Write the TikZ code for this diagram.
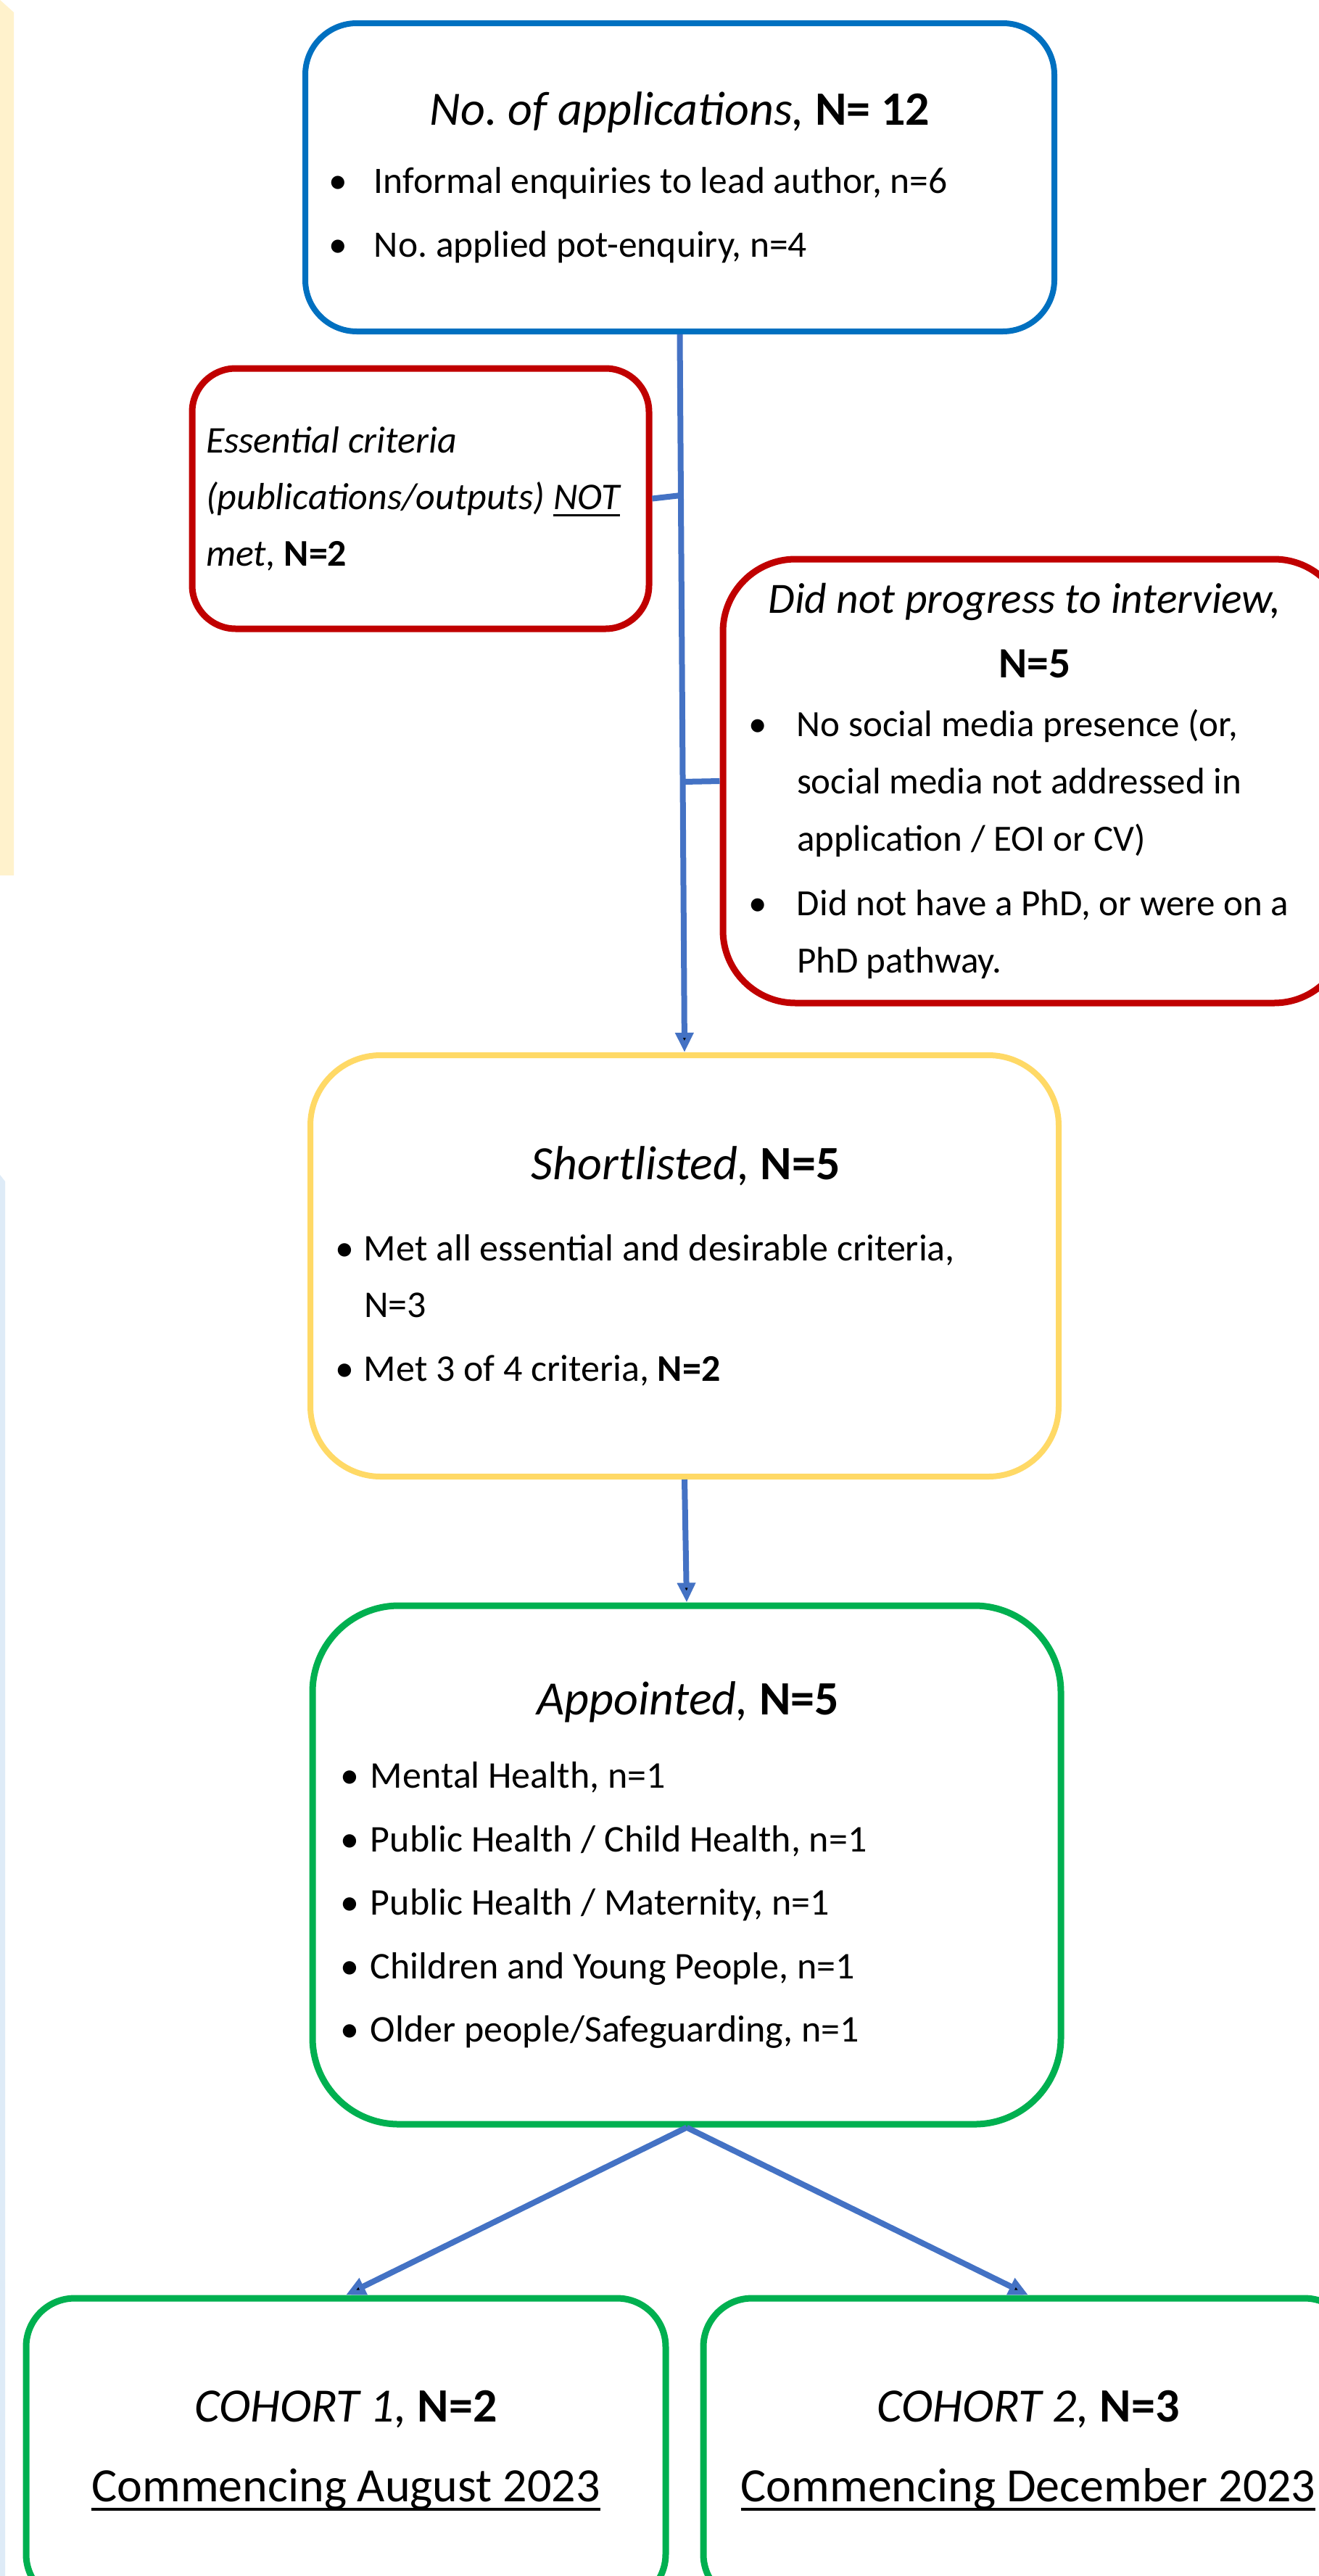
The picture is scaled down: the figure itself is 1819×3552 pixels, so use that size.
\documentclass[tikz,border=0pt]{standalone}
\usepackage{fontspec}
\setmainfont{Carlito}
\usetikzlibrary{arrows.meta}

\definecolor{appblue}{HTML}{0070C0}
\definecolor{rejred}{HTML}{C00000}
\definecolor{listyellow}{HTML}{FFD966}
\definecolor{apptgreen}{HTML}{00B050}
\definecolor{flowblue}{HTML}{4472C4}
\definecolor{bandyellow}{HTML}{FFF2CC}
\definecolor{bandblue}{HTML}{DEEBF7}

\newcommand{\fsz}[2]{\fontsize{#1}{#2}\selectfont\spaceskip=0.226em plus 0.08em minus 0.04em\xspaceskip=\spaceskip}
\newsavebox{\undlbox}
\newcommand{\undl}[1]{\leavevmode\sbox{\undlbox}{#1}\rlap{\rule[-0.19em]{\wd\undlbox}{0.055em}}\usebox{\undlbox}}
\newcommand{\bpoint}[2]{\par\hangindent=#1\hangafter=1\noindent\makebox[#1][l]{\textbullet}#2}

\begin{document}
\begin{tikzpicture}[x=1pt,y=-1pt,>={Triangle[length=27pt,width=24pt]},
  stage/.style={draw, rounded corners=#1, line width=8pt, fill=white, inner sep=0pt,
    execute at begin node={\parindent=0pt}},
  flow/.style={draw=flowblue, line width=8pt}]
  \useasboundingbox (0,0) rectangle (1819,3552);
  \fill[white] (0,0) rectangle (1819,3552);
  \clip (0,0) rectangle (1819,3552);
  \fill[bandyellow] (0,0) -- (19,17) -- (19,1207) -- (0,1207) -- cycle;
  \fill[bandblue] (0,1620) -- (7,1629) -- (7,3552) -- (0,3552) -- cycle;

  \node[stage=71pt, draw=appblue, minimum width=1033pt, minimum height=425pt, text width=969pt]
    (apps) at (937.5,244.5)
    {{\fsz{66}{80}\centering\textit{No. of applications,} \textbf{N= 12}\par}
     \vspace{6pt}
     {\fsz{51.5}{88}\raggedright
      \bpoint{63pt}{Informal enquiries to lead author, n=6}
      \bpoint{63pt}{No. applied pot-enquiry, n=4}\par}};
  \node[stage=60pt, draw=rejred, line width=9pt, minimum width=630pt, minimum height=359pt, text width=592pt]
    (ess) at (580,687.5)
    {\fsz{52}{78}\raggedright
     \textit{Essential criteria}\newline
     \textit{(publications/outputs) \undl{NOT}}\newline
     \textit{met,} \textbf{N=2}\par};
  \node[stage=100pt, draw=rejred, line width=9pt, minimum width=860pt, minimum height=612pt, text width=790pt]
    (dnp) at (1427,1077)
    {{\fsz{59.5}{89}\centering\textit{Did not progress to interview,}\newline\textbf{N=5}\par}
     \vspace{2pt}
     {\fsz{51}{79}\raggedright
      \bpoint{67pt}{No social media presence (or,\newline social media not addressed in\newline application / EOI or CV)}\par
      \vspace{10pt}
      \bpoint{67pt}{Did not have a PhD, or were on a\newline PhD pathway.}\par}};
  \node[stage=97pt, draw=listyellow, minimum width=1032pt, minimum height=581pt, text width=964pt]
    (short) at (944,1745.5)
    {\vspace*{18pt}
     {\fsz{66}{80}\centering\textit{Shortlisted,} \textbf{N=5}\par}
     \vspace{16pt}
     {\fsz{52}{78}\raggedright
      \bpoint{40pt}{Met all essential and desirable criteria,\newline N=3}\par
      \vspace{10pt}
      \bpoint{40pt}{Met 3 of 4 criteria, \textbf{N=2}}\par}};
  \node[stage=119pt, draw=apptgreen, line width=9pt, minimum width=1032pt, minimum height=715pt, text width=956pt]
    (appt) at (947,2571.5)
    {\vspace*{10pt}
     {\fsz{66}{80}\centering\textit{Appointed,} \textbf{N=5}\par}
     \vspace{4pt}
     {\fsz{52}{87.5}\raggedright
      \bpoint{42pt}{Mental Health, n=1}
      \bpoint{42pt}{Public Health / Child Health, n=1}
      \bpoint{42pt}{Public Health / Maternity, n=1}
      \bpoint{42pt}{Children and Young People, n=1}
      \bpoint{42pt}{Older people/Safeguarding, n=1}\par}};
  \node[stage=67pt, draw=apptgreen, line width=9pt, minimum width=882pt, minimum height=420pt, text width=860pt]
    (c1) at (477,3379)
    {\fsz{66}{110}\centering
     \textit{COHORT 1,} \textbf{N=2}\par
     \undl{Commencing August 2023}\par};
  \node[stage=67pt, draw=apptgreen, line width=9pt, minimum width=896pt, minimum height=420pt, text width=870pt]
    (c2) at (1418,3379)
    {\fsz{66}{110}\centering
     \textit{COHORT 2,} \textbf{N=3}\par
     \undl{Commencing December 2023}\par};

  \coordinate (j1) at (939,683);
  \coordinate (j2) at (941.5,1078);

  \path[flow]
  (apps.south) edge[->] (short.north)
  (j1) edge (ess.east)
  (j2) edge (dnp.west)
  (short.south) edge[->] (appt.north)
  (appt.south) edge[->] (c1.north)
  (appt.south) edge[->] (c2.north);
\end{tikzpicture}
\end{document}
